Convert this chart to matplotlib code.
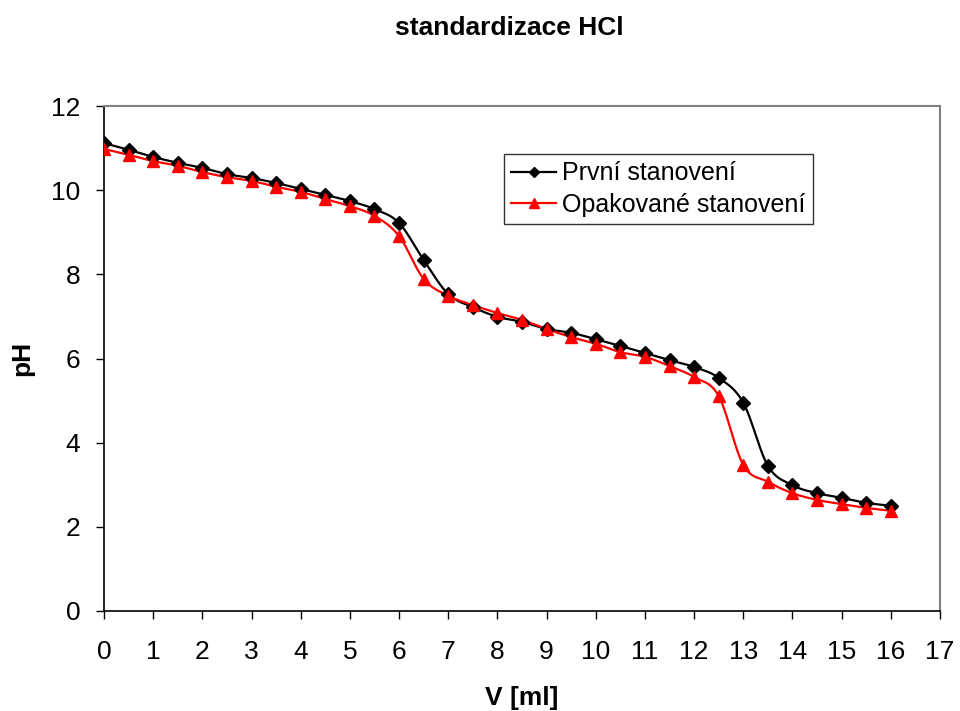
import numpy as np
import matplotlib.pyplot as plt

plt.rcParams['font.family'] = ['Liberation Sans', 'DejaVu Sans']

# titration volume [ml]
volume = [0, 0.5, 1, 1.5, 2, 2.5, 3, 3.5, 4, 4.5, 5, 5.5, 6, 6.5, 7, 7.5,
          8, 8.5, 9, 9.5, 10, 10.5, 11, 11.5, 12, 12.5, 13, 13.5, 14, 14.5,
          15, 15.5, 16]

ph_first = [11.12, 10.96, 10.79, 10.65, 10.53, 10.38, 10.29, 10.17, 10.03,
            9.89, 9.74, 9.55, 9.22, 8.34, 7.53, 7.22, 6.99, 6.87, 6.70, 6.61,
            6.46, 6.30, 6.13, 5.96, 5.80, 5.54, 4.95, 3.45, 2.99, 2.80, 2.69,
            2.57, 2.50]

ph_repeat = [10.98, 10.84, 10.69, 10.58, 10.43, 10.31, 10.22, 10.08, 9.96,
             9.79, 9.62, 9.39, 8.91, 7.89, 7.49, 7.27, 7.08, 6.92, 6.70, 6.51,
             6.35, 6.15, 6.04, 5.82, 5.56, 5.11, 3.47, 3.07, 2.80, 2.64, 2.54,
             2.45, 2.38]


def smooth(x, y, n=20):
    # Catmull-Rom curve through the points, like Excel's smoothed line
    x = np.asarray(x, float)
    y = np.asarray(y, float)
    px = np.concatenate([[2 * x[0] - x[1]], x, [2 * x[-1] - x[-2]]])
    py = np.concatenate([[2 * y[0] - y[1]], y, [2 * y[-1] - y[-2]]])
    t = np.linspace(0, 1, n, endpoint=False)
    xs, ys = [], []
    for i in range(1, len(px) - 2):
        for p, out in ((px, xs), (py, ys)):
            p0, p1, p2, p3 = p[i - 1], p[i], p[i + 1], p[i + 2]
            out.extend(0.5 * (2 * p1 + (-p0 + p2) * t
                              + (2 * p0 - 5 * p1 + 4 * p2 - p3) * t ** 2
                              + (-p0 + 3 * p1 - 3 * p2 + p3) * t ** 3))
    xs.append(x[-1])
    ys.append(y[-1])
    return xs, ys


fig = plt.figure(figsize=(9.6, 7.11), dpi=100)
ax = fig.add_axes([104 / 960, 1 - 611 / 711, 836 / 960, 505 / 711])

for yv, color, marker, ms, label in (
        (ph_first, 'black', 'D', 7, 'První stanovení'),
        (ph_repeat, 'red', '^', 8.5, 'Opakované stanovení')):
    sx, sy = smooth(volume, yv)
    ax.plot(sx, sy, color=color, lw=1.6, zorder=2)
    ax.plot(volume, yv, ls='none', marker=marker, ms=ms, color=color, zorder=3)
    ax.plot([], [], color=color, lw=1.6, marker=marker, ms=ms * 0.8, label=label)

ax.set_xlim(0, 17)
ax.set_ylim(0, 12)
ax.set_xticks(range(0, 18))
ax.set_yticks(range(0, 13, 2))
ax.tick_params(labelsize=19, direction='out', length=6, width=1)
ax.tick_params(axis='x', pad=15)
ax.tick_params(axis='y', pad=11)

for side in ('top', 'right'):
    ax.spines[side].set_color('#808080')
    ax.spines[side].set_linewidth(1.5)
for side in ('left', 'bottom'):
    ax.spines[side].set_linewidth(1.2)

ax.set_xlabel('V [ml]', fontsize=19, fontweight='bold', labelpad=16)
ax.set_ylabel('pH', fontsize=19, fontweight='bold', labelpad=12)
fig.text(0.531, 0.96, 'standardizace HCl', ha='center', va='center',
         fontsize=19, fontweight='bold')

leg = ax.legend(loc='upper left', bbox_to_anchor=(0.478, 0.905), fontsize=18,
                borderaxespad=0, frameon=True, fancybox=False,
                edgecolor='black', handlelength=1.8, handletextpad=0.25,
                borderpad=0.3, labelspacing=0.3)
leg.get_frame().set_linewidth(1.0)

fig.savefig('out.png', dpi=100)
